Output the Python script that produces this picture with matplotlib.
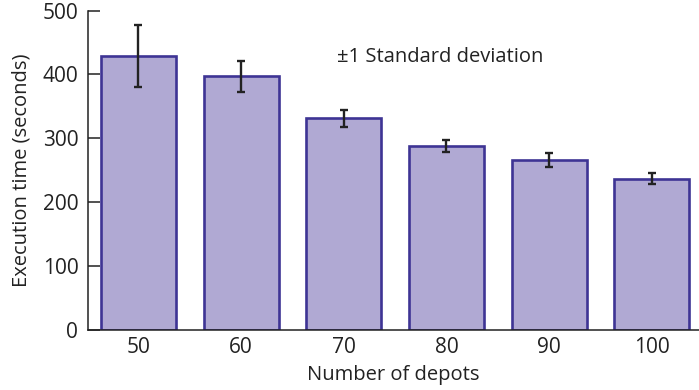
import matplotlib
matplotlib.use("Agg")
import matplotlib.pyplot as plt

# mean execution time and one standard deviation per depot count
depots = ["50", "60", "70", "80", "90", "100"]
exec_time = [429, 397, 331, 288, 266, 237]
std_dev = [48, 24, 13, 9.5, 10.5, 8]

plt.rcParams["font.family"] = ["Open Sans", "DejaVu Sans"]

fig = plt.figure(figsize=(6.99, 3.9), dpi=100)
ax = fig.add_axes([0.126, 0.154, 0.874, 0.819])

x = range(len(depots))
ax.bar(x, exec_time, width=0.73, color="#b0a9d3", edgecolor="#3e3494",
       linewidth=1.9, zorder=2)
ax.errorbar(x, exec_time, yerr=std_dev, fmt="none", ecolor="#222222",
            elinewidth=1.7, capsize=2.7, capthick=1.7, zorder=3)

ax.set_xlim(-0.49, 5.46)
ax.set_ylim(0, 500)
ax.set_xticks(list(x))
ax.set_xticklabels(depots)
ax.set_yticks([0, 100, 200, 300, 400, 500])

for side in ("top", "right"):
    ax.spines[side].set_visible(False)
for side in ("left", "bottom"):
    ax.spines[side].set_color("#222222")
    ax.spines[side].set_linewidth(1.1)

ax.tick_params(axis="y", direction="in", length=8.5, width=1.1,
               color="#222222", pad=7, labelsize=15, labelcolor="#222222")
ax.tick_params(axis="x", length=0, pad=5, labelsize=15, labelcolor="#222222")

ax.set_xlabel("Number of depots", fontsize=14.5, color="#222222", labelpad=5)
ax.set_ylabel("Execution time (seconds)", fontsize=14.5, color="#222222",
              labelpad=8)

ax.text(1.93, 427, "\u00b11 Standard deviation", fontsize=14.5,
        color="#222222", va="center", ha="left")

fig.savefig("out.png", dpi=100)
